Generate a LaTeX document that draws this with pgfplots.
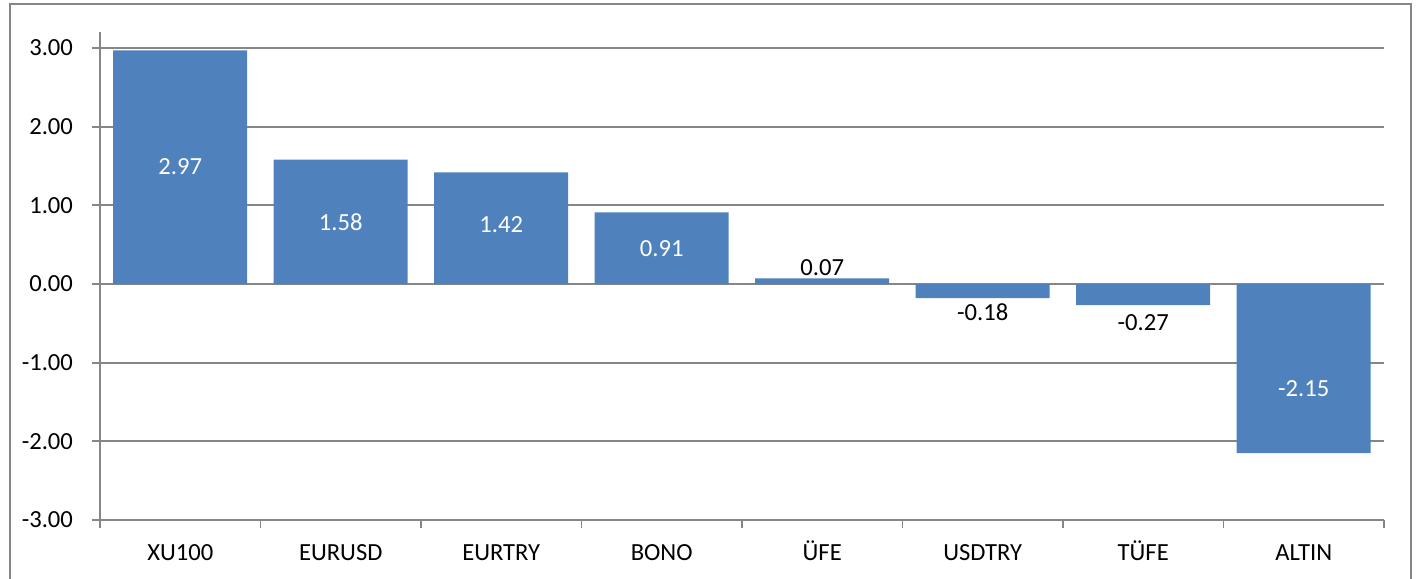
\documentclass[border=0pt]{standalone}
\usepackage{fontspec}
\setmainfont{Carlito}
\usepackage{pgfplots}
\pgfplotsset{compat=1.18}
\definecolor{barblue}{RGB}{79,129,189}
\definecolor{axisgray}{RGB}{134,134,134}
\begin{document}
\begin{tikzpicture}[x=0.5pt,y=0.5pt]
\useasboundingbox (0,0) rectangle (1421,579);
\draw[axisgray, line width=1pt] (9.5,0) -- (9.5,574.5) -- (1411,574.5) -- (1411,0);
\begin{axis}[
    at={(50pt,29.5pt)}, anchor=south west,
    scale only axis, width=642pt, height=243.87pt,
    xmin=0.5, xmax=8.5, ymin=-3, ymax=3.2,
    axis y line*=left, axis x line*=bottom,
    axis line style={axisgray, line width=0.9pt, -},
    xtick={1,...,8},
    xticklabels={XU100,EURUSD,EURTRY,BONO,ÜFE,USDTRY,TÜFE,ALTIN},
    minor xtick={0.5,1.5,...,8.5},
    major x tick style={draw=none},
    minor x tick style={axisgray, line width=0.9pt},
    ytick={-3,-2,...,3},
    yticklabels={-3.00,-2.00,-1.00,0.00,1.00,2.00,3.00},
    ytick style={axisgray, line width=0.9pt},
    tick align=outside, major tick length=4pt, minor tick length=4pt,
    ymajorgrids, grid style={axisgray, line width=0.9pt},
    tick label style={font=\fontsize{12.3}{14}\selectfont, black},
    yticklabel style={xshift=-6pt},
    xticklabel style={text height=10pt, text depth=0pt, yshift=-2.5pt},
]
\addplot[ybar, bar width=67pt, bar shift=0pt, fill=barblue, draw=none] coordinates {
    (1,2.97)(2,1.58)(3,1.42)(4,0.91)(5,0.07)(6,-0.18)(7,-0.27)(8,-2.15)};
% labels inside the bars
\addplot[draw=none, mark=none, nodes near coords, point meta=explicit symbolic,
    nodes near coords style={font=\fontsize{12.3}{14}\selectfont, white, anchor=center}]
    table[meta=lab] {
x y lab
1 1.487 2.97
2 0.79 1.58
3 0.76 1.42
4 0.445 0.91
8 -1.335 -2.15
};
% labels outside the small bars
\addplot[draw=none, mark=none, nodes near coords, point meta=explicit symbolic,
    nodes near coords style={font=\fontsize{12.3}{14}\selectfont, black, anchor=center}]
    table[meta=lab] {
x y lab
5 0.203 0.07
6 -0.356 -0.18
7 -0.496 -0.27
};
\end{axis}
\end{tikzpicture}
\end{document}
